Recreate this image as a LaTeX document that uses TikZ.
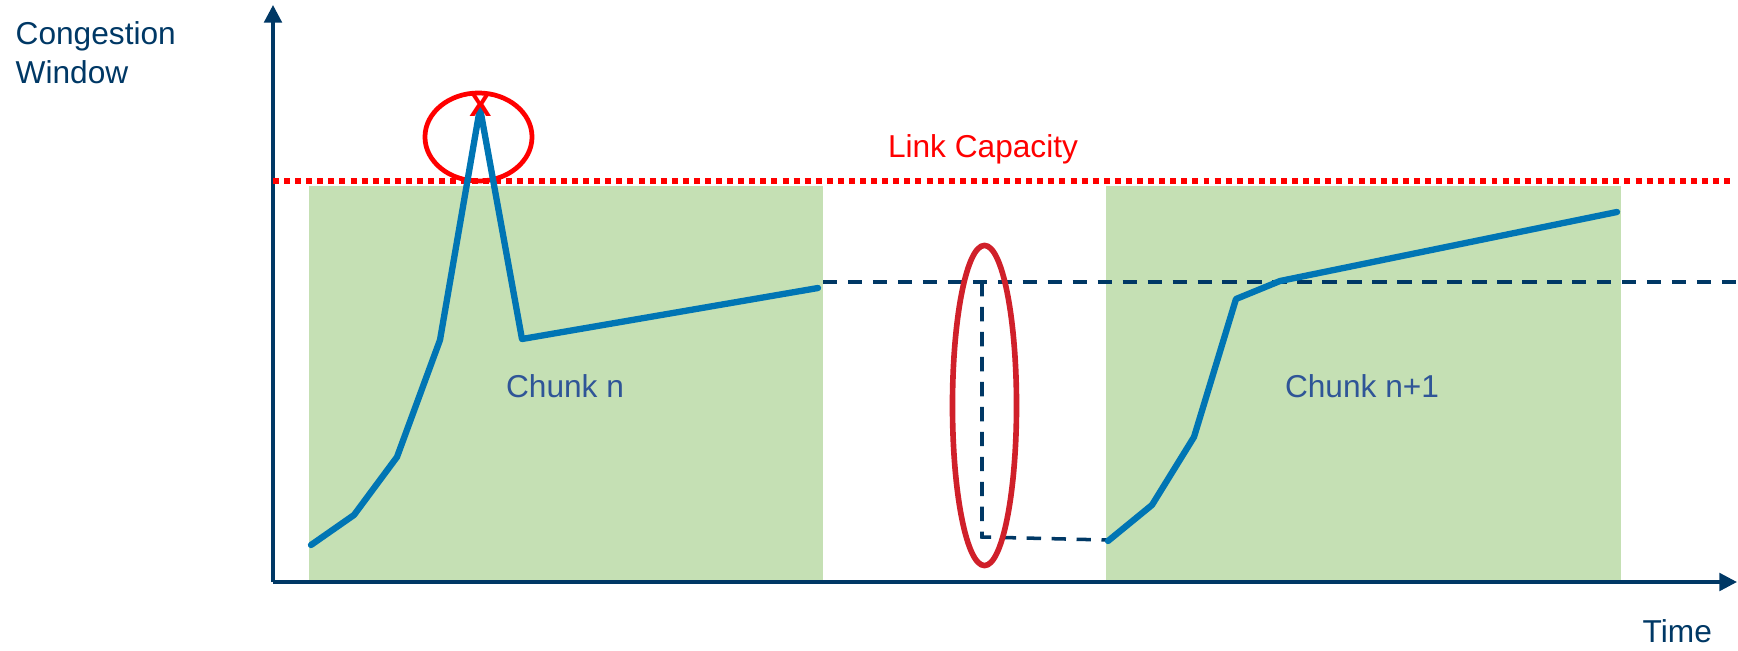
\documentclass[tikz,border=0pt]{standalone}
\usepackage{fontspec}
\setmainfont{Liberation Sans}
\usetikzlibrary{arrows.meta,shapes.geometric}
\definecolor{axisnavy}{RGB}{0,56,101}
\definecolor{chunkgreen}{RGB}{197,224,180}
\definecolor{cwndblue}{RGB}{0,117,180}
\definecolor{labelblue}{RGB}{47,85,151}
\definecolor{lossred}{RGB}{255,0,0}
\definecolor{idlered}{RGB}{208,32,42}
\tikzset{
  axisline/.style={draw=axisnavy, line width=0.95pt, -{Triangle[length=5pt,width=5pt]}},
  chunkbox/.style={fill=chunkgreen, draw=none},
  capline/.style={draw=lossred, line width=1.5pt, dash pattern=on 1.7pt off 1.45pt},
  refline/.style={draw=axisnavy, line width=1pt, dash pattern=on 4.1pt off 3.0pt},
  cwnd/.style={draw=cwndblue, line width=1.8pt, line join=round, line cap=round},
  axislabel/.style={text=axisnavy, inner sep=0pt, font=\fontsize{9}{11}\selectfont},
  chunklabel/.style={text=labelblue, inner sep=0pt, font=\fontsize{9}{11}\selectfont},
  caplabel/.style={text=lossred, inner sep=0pt, font=\fontsize{9}{11}\selectfont},
}
\begin{document}
\begin{tikzpicture}[x=0.01cm, y=-0.01cm]
\useasboundingbox (0,0) rectangle (1738,651);

% chunk periods
\fill[chunkbox] (309,186) rectangle (823,581);
\fill[chunkbox] (1106,186) rectangle (1621,581);

% axes
\coordinate (origin) at (273,582);
\coordinate (ytip) at (273,5);
\coordinate (xtip) at (1737,582);
\draw[axisline] (origin) -- (ytip);
\draw[axisline] (origin) -- (xtip);
\node[axislabel, anchor=base west] (ylabA) at (15,44) {Congestion};
\node[axislabel, anchor=base west] (ylabB) at (15,83) {Window};
\node[axislabel, anchor=base west] (xlab) at (1642,642) {Time};

% link capacity
\coordinate (capL) at (273,181);
\coordinate (capR) at (1730,181);
\draw[capline] (capL) -- (capR);
\node[caplabel, anchor=base] (caplab) at (983,157) {Link Capacity};

% window carried over the idle gap
\coordinate (refA) at (823,282);
\coordinate (refB) at (1737,282);
\coordinate (dropT) at (982,282);
\coordinate (dropB) at (982,537);
\coordinate (restart) at (1107,540);
\draw[refline] (refA) -- (refB);
\draw[refline] (dropT) -- (dropB) -- (restart);

% chunk labels
\node[chunklabel, anchor=base] (chunkA) at (565,397) {Chunk n};
\node[chunklabel, anchor=base] (chunkB) at (1362,397) {Chunk n+1};

% loss marker ring
\node[draw=lossred, line width=1.35pt, ellipse, minimum width=107pt*0.2845, minimum height=88pt*0.2845, inner sep=0pt] (lossring) at (478.5,137) {};

% congestion window, chunk n
\coordinate (a1) at (311,545);
\coordinate (a2) at (354,515);
\coordinate (a3) at (397,457);
\coordinate (a4) at (440,340);
\coordinate (a5) at (480,108);
\coordinate (a6) at (522,339);
\coordinate (a7) at (818,288);
\draw[cwnd] (a1) -- (a2) -- (a3) -- (a4) -- (a5) -- (a6) -- (a7);

% congestion window, chunk n+1
\coordinate (b1) at (1108,541);
\coordinate (b2) at (1152,505);
\coordinate (b3) at (1194,437);
\coordinate (b4) at (1236,299);
\coordinate (b5) at (1280,281);
\coordinate (b6) at (1617,212);
\draw[cwnd] (b1) -- (b2) -- (b3) -- (b4) -- (b5) -- (b6);

% loss mark
\node[text=lossred, inner sep=0pt, font=\fontsize{9.4}{11}\selectfont\bfseries] (lossx) at (480.5,105.5) {X};

% idle gap ring
\node[draw=idlered, line width=1.6pt, ellipse, minimum width=64pt*0.2845, minimum height=320pt*0.2845, inner sep=0pt] (idlering) at (984.5,405.5) {};
\end{tikzpicture}
\end{document}
